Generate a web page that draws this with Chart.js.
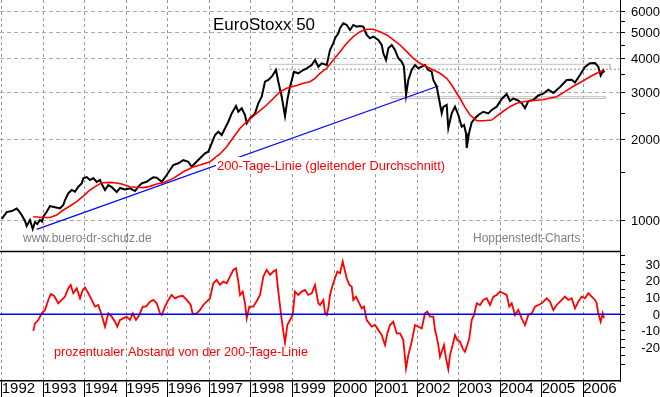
<!DOCTYPE html>
<html>
<head>
<meta charset="utf-8">
<title>EuroStoxx 50</title>
<script src="https://cdn.jsdelivr.net/npm/chart.js@4.4.1/dist/chart.umd.min.js"></script>
<style>
  html, body { margin: 0; padding: 0; background: #fff; }
  #wrap { position: relative; width: 660px; height: 397px; }
</style>
</head>
<body>
<div id="wrap"><canvas id="chart"></canvas></div>
<script>
// x axis: decimal years
const years = [1992, 1993, 1994, 1995, 1996, 1997, 1998, 1999, 2000, 2001, 2002, 2003, 2004, 2005, 2006];
const xMin = 1991.959;
const xMax = 2006.884;

// EuroStoxx 50 index
const priceDates = [
  1992.000, 1992.120, 1992.241, 1992.361, 1992.416, 1992.481, 1992.561, 1992.602, 1992.681, 1992.746,
  1992.802, 1992.857, 1992.922, 1992.970, 1993.001, 1993.083, 1993.163, 1993.283, 1993.403, 1993.483,
  1993.524, 1993.603, 1993.685, 1993.765, 1993.844, 1993.926, 1993.964, 1994.046, 1994.126, 1994.205,
  1994.287, 1994.366, 1994.407, 1994.487, 1994.566, 1994.648, 1994.768, 1994.848, 1994.968, 1995.088,
  1995.209, 1995.288, 1995.370, 1995.491, 1995.570, 1995.650, 1995.731, 1995.852, 1995.972, 1996.051,
  1996.131, 1996.251, 1996.372, 1996.492, 1996.574, 1996.653, 1996.774, 1996.894, 1996.973, 1997.055,
  1997.135, 1997.214, 1997.296, 1997.376, 1997.455, 1997.537, 1997.640, 1997.696, 1997.778, 1997.857,
  1997.898, 1997.977, 1998.098, 1998.177, 1998.259, 1998.338, 1998.418, 1998.500, 1998.603, 1998.659,
  1998.741, 1998.820, 1998.876, 1998.940, 1999.037, 1999.140, 1999.260, 1999.342, 1999.463, 1999.542,
  1999.622, 1999.703, 1999.824, 1999.903, 1999.983, 2000.024, 2000.103, 2000.144, 2000.223, 2000.305,
  2000.385, 2000.464, 2000.546, 2000.625, 2000.705, 2000.786, 2000.866, 2000.946, 2001.066, 2001.148,
  2001.187, 2001.251, 2001.307, 2001.389, 2001.468, 2001.548, 2001.629, 2001.684, 2001.733, 2001.788,
  2001.870, 2001.949, 2002.029, 2002.111, 2002.190, 2002.269, 2002.351, 2002.390, 2002.472, 2002.510,
  2002.551, 2002.592, 2002.631, 2002.712, 2002.751, 2002.833, 2002.912, 2002.992, 2003.073, 2003.129,
  2003.177, 2003.194, 2003.249, 2003.314, 2003.394, 2003.473, 2003.594, 2003.714, 2003.796, 2003.916,
  2004.037, 2004.157, 2004.236, 2004.316, 2004.436, 2004.518, 2004.597, 2004.677, 2004.797, 2004.918,
  2005.038, 2005.158, 2005.279, 2005.440, 2005.601, 2005.721, 2005.801, 2005.921, 2006.041, 2006.161,
  2006.282, 2006.361, 2006.419, 2006.481, 2006.505
];
const priceValues = [
  1009, 1071, 1080, 1104, 1080, 1044, 992, 950, 1000, 926,
  983, 966, 1000, 987, 1029, 1074, 1128, 1116, 1106, 1138,
  1188, 1258, 1295, 1276, 1332, 1371, 1431, 1447, 1411, 1435,
  1387, 1411, 1363, 1295, 1351, 1328, 1273, 1317, 1300, 1313,
  1283, 1332, 1371, 1390, 1420, 1444, 1440, 1390, 1473, 1537,
  1605, 1629, 1675, 1651, 1582, 1629, 1701, 1775, 1800, 1935,
  2078, 2138, 2078, 2201, 2329, 2503, 2666, 2538, 2615, 2468,
  2298, 2399, 2503, 2729, 2888, 3286, 3334, 3430, 3634, 3286,
  2888, 2446, 2807, 3148, 3581, 3532, 3634, 3688, 3794, 3960,
  3738, 3849, 3794, 4315, 4574, 4774, 4983, 5203, 5431, 5352,
  5126, 5352, 5275, 5307, 5275, 4912, 4774, 4840, 4705, 4506,
  4195, 3960, 4380, 4506, 4315, 4019, 3903, 3738, 2931, 3334,
  3634, 3794, 3688, 3738, 3794, 3634, 3581, 3334, 3148, 2931,
  2713, 2503, 2644, 2689, 2201, 2503, 2651, 2468, 2232, 2264,
  2109, 1858, 2109, 2314, 2399, 2468, 2538, 2503, 2576, 2651,
  2832, 2957, 2783, 2844, 2795, 2729, 2615, 2783, 2807, 2919,
  2965, 3068, 2983, 3140, 3334, 3344, 3264, 3481, 3728, 3849,
  3860, 3738, 3467, 3619, 3557
];

// 200-Tage-Linie
const maDates = [
  1992.761, 1993.001, 1993.163, 1993.324, 1993.483, 1993.644, 1993.805, 1993.964, 1994.126, 1994.287,
  1994.407, 1994.607, 1994.768, 1994.889, 1995.088, 1995.250, 1995.409, 1995.570, 1995.731, 1995.890,
  1996.131, 1996.372, 1996.605, 1996.774, 1997.014, 1997.255, 1997.416, 1997.575, 1997.737, 1997.898,
  1998.138, 1998.379, 1998.538, 1998.700, 1998.861, 1999.102, 1999.260, 1999.422, 1999.542, 1999.663,
  1999.824, 1999.983, 2000.144, 2000.305, 2000.464, 2000.625, 2000.786, 2000.946, 2001.107, 2001.268,
  2001.428, 2001.589, 2001.750, 2001.909, 2002.070, 2002.231, 2002.390, 2002.551, 2002.712, 2002.833,
  2002.953, 2003.033, 2003.153, 2003.274, 2003.435, 2003.594, 2003.796, 2003.916, 2004.075, 2004.236,
  2004.398, 2004.557, 2004.797, 2005.038, 2005.199, 2005.360, 2005.560, 2005.760, 2005.962, 2006.161,
  2006.323, 2006.443, 2006.505
];
const maValues = [
  1029, 1022, 1022, 1044, 1090, 1128, 1171, 1229, 1295, 1345,
  1379, 1383, 1375, 1363, 1332, 1325, 1322, 1336, 1363, 1379,
  1431, 1515, 1578, 1605, 1651, 1765, 1879, 2033, 2201, 2329,
  2503, 2689, 2844, 3016, 3105, 3181, 3241, 3286, 3383, 3533,
  3688, 3960, 4254, 4574, 4840, 5052, 5158, 5158, 5052, 4912,
  4705, 4506, 4254, 4019, 3849, 3738, 3634, 3533, 3383, 3195,
  2975, 2850, 2633, 2468, 2350, 2348, 2363, 2446, 2549, 2651,
  2729, 2767, 2795, 2814, 2856, 2888, 3016, 3159, 3286, 3430,
  3533, 3604, 3634
];

// prozentualer Abstand von der 200-Tage-Linie
const devDates = [
  1992.761, 1992.802, 1992.881, 1992.963, 1993.042, 1993.122, 1993.180, 1993.259, 1993.363, 1993.444,
  1993.524, 1993.603, 1993.661, 1993.724, 1993.805, 1993.885, 1993.950, 1994.005, 1994.085, 1994.167,
  1994.246, 1994.325, 1994.407, 1994.487, 1994.566, 1994.648, 1994.727, 1994.783, 1994.848, 1994.927,
  1995.009, 1995.088, 1995.154, 1995.233, 1995.312, 1995.394, 1995.474, 1995.570, 1995.650, 1995.731,
  1995.811, 1995.852, 1995.931, 1996.011, 1996.092, 1996.172, 1996.251, 1996.357, 1996.454, 1996.550,
  1996.598, 1996.694, 1996.774, 1996.853, 1996.935, 1997.014, 1997.094, 1997.176, 1997.255, 1997.335,
  1997.416, 1997.496, 1997.575, 1997.640, 1997.696, 1997.737, 1997.802, 1997.857, 1997.898, 1997.961,
  1998.057, 1998.154, 1998.218, 1998.298, 1998.379, 1998.459, 1998.538, 1998.603, 1998.659, 1998.716,
  1998.779, 1998.820, 1998.876, 1998.940, 1999.005, 1999.061, 1999.140, 1999.222, 1999.301, 1999.381,
  1999.463, 1999.542, 1999.622, 1999.663, 1999.743, 1999.783, 1999.824, 1999.863, 1999.903, 1999.968,
  2000.024, 2000.079, 2000.144, 2000.209, 2000.266, 2000.305, 2000.368, 2000.425, 2000.464, 2000.529,
  2000.609, 2000.667, 2000.722, 2000.786, 2000.849, 2000.907, 2000.986, 2001.066, 2001.148, 2001.227,
  2001.283, 2001.348, 2001.427, 2001.509, 2001.589, 2001.668, 2001.733, 2001.788, 2001.870, 2001.949,
  2002.029, 2002.111, 2002.190, 2002.246, 2002.310, 2002.390, 2002.431, 2002.472, 2002.510, 2002.551,
  2002.592, 2002.647, 2002.695, 2002.751, 2002.792, 2002.856, 2002.912, 2002.968, 2003.033, 2003.097,
  2003.153, 2003.208, 2003.256, 2003.314, 2003.370, 2003.435, 2003.514, 2003.594, 2003.675, 2003.755,
  2003.835, 2003.916, 2003.995, 2004.075, 2004.157, 2004.219, 2004.277, 2004.357, 2004.436, 2004.518,
  2004.597, 2004.677, 2004.759, 2004.838, 2004.918, 2005.000, 2005.120, 2005.199, 2005.279, 2005.360,
  2005.440, 2005.560, 2005.640, 2005.721, 2005.801, 2005.880, 2005.962, 2006.041, 2006.121, 2006.202,
  2006.282, 2006.323, 2006.361, 2006.419, 2006.467, 2006.498
];
const devValues = [
  -10, -5.5, -3.5, 0.5, 2.5, 8.5, 12, 11, 6.5, 8.5,
  10.5, 15.5, 17.5, 12.5, 15.5, 9.5, 14.5, 16, 12.5, 8.5,
  4.5, 5.5, -0.5, -7.5, 0.5, -1.5, -4.5, -7.5, -3.5, -2.5,
  -1.5, -3.5, 0.5, -3.5, -0.5, 4.5, 4.5, 7.5, 8.5, 6.5,
  0.5, -0.5, 4.5, 8.5, 11.5, 9.5, 10.5, 11, 8.5, 5.5,
  0, 0.5, 2.5, 5.5, 7.5, 9.5, 18.5, 20.5, 17.5, 19.5,
  18.5, 22.5, 26.5, 27.5, 19.5, 11.5, 13.5, 6.5, -2.5, 4.5,
  4.5, 8.5, 11.5, 22.5, 26.5, 23.5, 25.5, 26.5, 13.5, 1.5,
  -10.5, -17, -6.5, -3.5, -0.5, 13.5, 11.5, 13.5, 14.5, 11.5,
  12.5, 17.5, 6.5, 5.5, 8.5, 0.5, -0.5, 3.5, 11.5, 17.5,
  21.5, 25.5, 24.5, 31.5, 25.5, 21.5, 17.5, 16.5, 8.5, 10.5,
  6.5, 3.5, 4.5, -3.5, -5.5, -7.5, -6.5, -9.5, -12.5, -18.5,
  -11.5, -6.5, -4.5, -11.5, -11.5, -15.5, -32.5, -24.5, -16.5, -6.5,
  -7.5, -8.5, 0.5, 1.5, -1.5, -1.5, -9.5, -13.5, -18.5, -25.5,
  -22.5, -18.5, -26.5, -33, -24.5, -18.5, -12.5, -15.5, -16.5, -20.5,
  -22.5, -18.5, -14.5, -3.5, -0.5, 6.5, 5.5, 8.5, 9.5, 5.5,
  10.5, 11.5, 13.5, 12.5, 11.5, 4.5, 6.5, -0.5, 2.5, -2.5,
  -6.5, -0.5, 0.5, 4.5, 5.5, 6.5, 9.5, 7.5, 2.5, 5.5,
  7.5, 10.5, 8.5, 9.5, 3.5, 7.5, 10.5, 9.5, 12.5, 10.5,
  8.5, 6.5, 0.5, -4.5, 0.5, -2.5
];

// Trendlinie and the two grey bands
const trendDates = [1992.843, 2002.510];
const trendValues = [923, 3167];
const upperBandDates = [1998.459, 2006.643];
const upperBandValues = [3656, 3817];
const lowerBandDates = [2001.372, 2006.523];
const lowerBandValues = [2844, 2888];

// axis ticks
const priceTicks = [1000, 1500, 2000, 2500, 3000, 3500, 4000, 4500, 5000, 5500, 6000];
const devTicks = [-30, -25, -20, -15, -10, -5, 0, 5, 10, 15, 20, 25, 30, 35];

const sans = '"Liberation Sans", Arial, sans-serif';

const toPoints = (xs, ys) => xs.map((x, i) => ({ x, y: ys[i] }));
const box = (xs, ys) => [
  { x: xs[0], y: ys[0] }, { x: xs[0], y: ys[1] },
  { x: xs[1], y: ys[1] }, { x: xs[1], y: ys[0] }
];

// fixed axis sizes, no extra room for half labels
const fixWidth = s => {
  s.width = 40;
  s.paddingTop = 0; s.paddingBottom = 0; s.paddingLeft = 0; s.paddingRight = 0;
};
const fixHeight = s => {
  s.height = 16;
  s.paddingTop = 0; s.paddingBottom = 0; s.paddingLeft = 0; s.paddingRight = 0;
};

const annotations = {
  id: 'annotations',
  afterDatasetsDraw(chart) {
    const { ctx, chartArea: area, scales } = chart;
    ctx.save();
    // line between the two panels
    ctx.strokeStyle = '#000';
    ctx.lineWidth = 1.5;
    ctx.beginPath();
    ctx.moveTo(area.left, scales.y.bottom);
    ctx.lineTo(area.right, scales.y.bottom);
    ctx.stroke();

    ctx.textBaseline = 'alphabetic';
    ctx.textAlign = 'left';
    ctx.fillStyle = '#000';
    ctx.font = '17px ' + sans;
    ctx.fillText('EuroStoxx 50', 213, 30);

    // label sits on a white box, cuts the trend line
    ctx.font = '13px ' + sans;
    ctx.fillStyle = '#fff';
    ctx.fillRect(216, 157, 230, 17);
    ctx.fillStyle = '#ff0000';
    ctx.fillText('200-Tage-Linie (gleitender Durchschnitt)', 217, 169.5, 228);
    ctx.fillText('prozentualer Abstand von der 200-Tage-Linie', 54, 356, 254);

    ctx.fillStyle = '#808080';
    ctx.font = '12px ' + sans;
    ctx.fillText('www.buero-dr-schulz.de', 23, 242);
    ctx.fillText('Hoppenstedt-Charts', 473, 242);
    ctx.restore();
  }
};

new Chart(document.getElementById('chart'), {
  type: 'line',
  data: {
    datasets: [
      { label: '200-Tage-Linie', data: toPoints(maDates, maValues), yAxisID: 'y',
        borderColor: '#ff0000', borderWidth: 1.6 },
      { label: 'EuroStoxx 50', data: toPoints(priceDates, priceValues), yAxisID: 'y',
        borderColor: '#000000', borderWidth: 2 },
      { label: 'Trend', data: toPoints(trendDates, trendValues), yAxisID: 'y',
        borderColor: '#0000ff', borderWidth: 1.2 },
      { label: 'Band oben', data: box(upperBandDates, upperBandValues), yAxisID: 'y',
        borderColor: '#c0c0c0', borderWidth: 1 },
      { label: 'Band oben Linie', data: [{ x: upperBandDates[0], y: upperBandValues[0] }, { x: xMax, y: upperBandValues[0] }],
        yAxisID: 'y', borderColor: '#909090', borderWidth: 1, borderDash: [2, 2] },
      { label: 'Band unten', data: box(lowerBandDates, lowerBandValues).concat([{ x: lowerBandDates[0], y: lowerBandValues[0] }]),
        yAxisID: 'y', borderColor: '#c0c0c0', borderWidth: 1 },
      { label: 'Null', data: [{ x: xMin, y: 0 }, { x: xMax, y: 0 }], yAxisID: 'y2',
        borderColor: '#0000ff', borderWidth: 1.5 },
      { label: 'Abstand', data: toPoints(devDates, devValues), yAxisID: 'y2',
        borderColor: '#ff0000', borderWidth: 1.8 }
    ]
  },
  options: {
    responsive: true,
    maintainAspectRatio: false,
    devicePixelRatio: 1,
    animation: false,
    events: [],
    layout: { padding: 0 },
    elements: { point: { radius: 0 }, line: { tension: 0 } },
    plugins: { legend: { display: false }, tooltip: { enabled: false } },
    scales: {
      x: {
        type: 'linear',
        min: xMin,
        max: xMax,
        afterBuildTicks: s => { s.ticks = years.map(v => ({ value: v })); },
        afterFit: fixHeight,
        grid: { color: '#999999', tickColor: '#000', tickLength: 16, lineWidth: 1 },
        border: { color: '#000', width: 1.5, dash: [3, 3] },
        ticks: {
          autoSkip: false, maxRotation: 0, align: 'start', padding: -17.5,
          color: '#000', font: { family: sans, size: 15 },
          callback: v => String(v)
        }
      },
      y: {
        type: 'logarithmic',
        position: 'right',
        stack: 'panels',
        stackWeight: 251.5,
        min: 763,
        max: 6634,
        afterBuildTicks: s => { s.ticks = priceTicks.map(v => ({ value: v })); },
        afterFit: fixWidth,
        grid: {
          color: c => (c.tick && c.tick.value % 1000 === 0 ? '#ababab' : 'rgba(0,0,0,0)'),
          tickColor: '#000', tickLength: 5, lineWidth: 1
        },
        border: { color: '#000', dash: [4, 3] },
        ticks: {
          autoSkip: false, crossAlign: 'far', padding: 2, labelOffset: 1,
          color: '#000', font: { family: sans, size: 13 },
          callback: v => (v % 1000 === 0 ? String(v) : '')
        }
      },
      y2: {
        type: 'linear',
        position: 'right',
        stack: 'panels',
        stackWeight: 129.5,
        min: -40,
        max: 37.5,
        afterBuildTicks: s => { s.ticks = devTicks.map(v => ({ value: v })); },
        afterFit: fixWidth,
        grid: { drawOnChartArea: false, tickColor: '#000', tickLength: 5 },
        border: { color: '#000' },
        ticks: {
          autoSkip: false, crossAlign: 'far', padding: 12, labelOffset: 1,
          color: '#000', font: { family: sans, size: 13 },
          callback: v => (v % 10 === 0 && v > -30 && v < 35 ? String(v) : '')
        }
      }
    }
  },
  plugins: [annotations]
});
</script>
</body>
</html>
